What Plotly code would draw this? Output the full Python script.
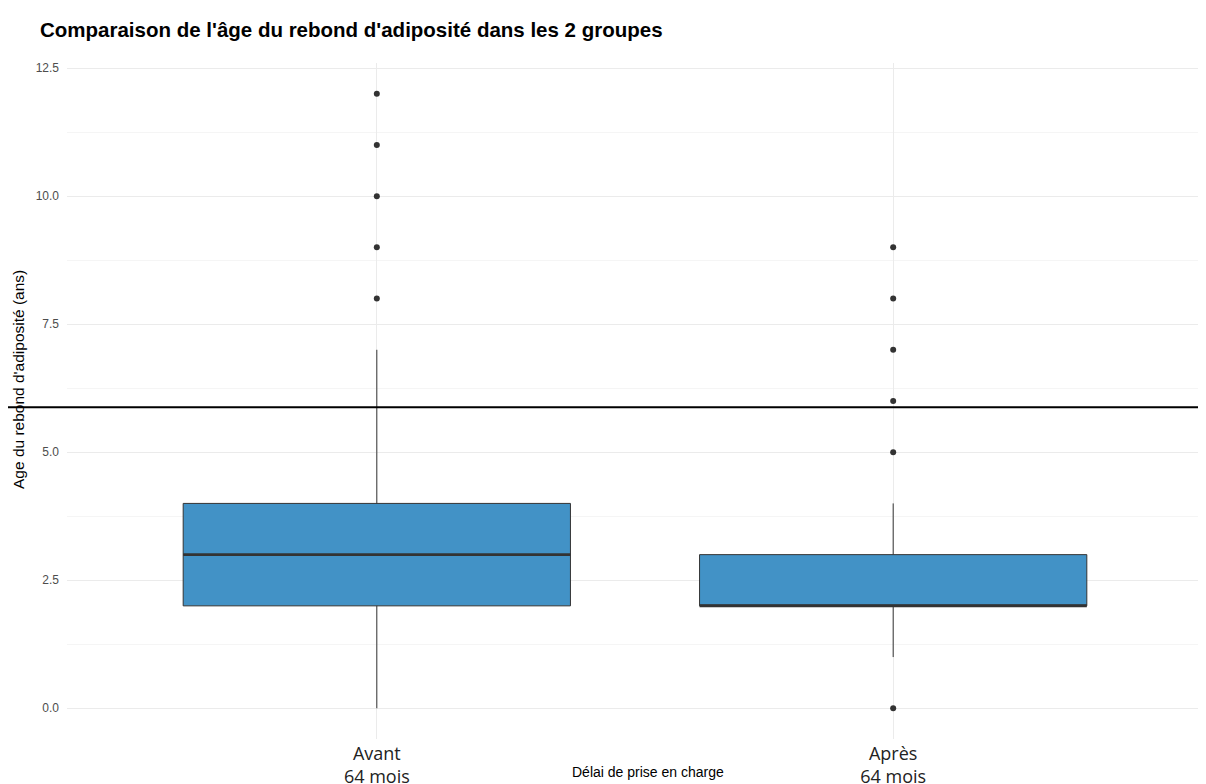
import plotly.graph_objects as go

categories = ["Avant<br>64 mois", "Après<br>64 mois"]
q1 = [2, 2]
median = [3, 2]
q3 = [4, 3]
lower_whisker = [0, 1]
upper_whisker = [7, 4]
outliers = [[8, 9, 10, 11, 12], [0, 5, 6, 7, 8, 9]]
hline_value = 5.88

title_text = "Comparaison de l'âge du rebond d'adiposité dans les 2 groupes"
x_title = "Délai de prise en charge"
y_title = "Age du rebond d'adiposité (ans)"
y_ticks = [0, 2.5, 5, 7.5, 10, 12.5]
y_minor = [1.25, 3.75, 6.25, 8.75, 11.25]

fill = "#4292C6"
edge = "#333333"
box_w = 0.75
pos = list(range(len(categories)))

fig = go.Figure()
fig.add_trace(go.Box(
    x=pos, q1=q1, median=median, q3=q3,
    lowerfence=lower_whisker, upperfence=upper_whisker,
    width=box_w, fillcolor=fill, line=dict(color=edge, width=1),
    boxpoints=False, showlegend=False, hoverinfo="skip", whiskerwidth=0,
))
for i, m in enumerate(median):
    fig.add_trace(go.Scatter(
        x=[pos[i] - box_w / 2, pos[i] + box_w / 2], y=[m, m], mode="lines",
        line=dict(color=edge, width=2.6), showlegend=False, hoverinfo="skip"))
for i, pts in enumerate(outliers):
    fig.add_trace(go.Scatter(
        x=[pos[i]] * len(pts), y=pts, mode="markers",
        marker=dict(color=edge, size=6), showlegend=False))

# page has an 8px body margin: figure coords = page coords - 8
W, H = 1198, 776
L, R, T, B = 59, 3, 55, 45
pw = W - L - R
ph = H - T - B
fig.add_shape(type="line", xref="paper", yref="y",
              x0=-L / pw, x1=(W - L) / pw, y0=hline_value, y1=hline_value,
              line=dict(color="black", width=2))

fig.update_layout(
    width=W, height=H,
    margin=dict(l=L, r=R, t=T, b=B, autoexpand=False),
    plot_bgcolor="white", paper_bgcolor="white",
    title=dict(text="<b>" + title_text + "</b>", x=32 / W, xanchor="left",
               y=1 - 22 / H, yanchor="middle",
               font=dict(family="Liberation Sans, Arial", size=20.5, color="black")),
    xaxis=dict(range=[-0.6, 1.6], tickvals=pos, ticktext=categories,
               showgrid=True, gridcolor="#EBEBEB", gridwidth=1, zeroline=False,
               tickfont=dict(family="Open Sans", size=18, color="#222222"),
               ticks="", showline=False, ticklabelstandoff=2, automargin=False),
    yaxis=dict(range=[-0.6, 12.6], tickvals=y_ticks,
               ticktext=[f"{v:.1f}" for v in y_ticks],
               showgrid=True, gridcolor="#EBEBEB", gridwidth=1, zeroline=False,
               tickfont=dict(family="Liberation Sans, Arial", size=12, color="#4D4D4D"),
               ticks="", ticklabelstandoff=7, automargin=False,
               minor=dict(tickvals=y_minor, showgrid=True,
                          gridcolor="#F5F5F5", gridwidth=1)),
    annotations=[
        dict(text=x_title, xref="paper", yref="paper", x=(640 - L) / pw,
             y=-(764 - (H - B)) / ph,
             xanchor="center", yanchor="middle", showarrow=False,
             font=dict(family="Liberation Sans, Arial", size=14, color="black")),
        dict(text=y_title, xref="paper", yref="paper", x=-(L - 10) / pw,
             y=((H - B) - 372) / ph,
             xanchor="center", yanchor="middle", textangle=-90, showarrow=False,
             font=dict(family="Liberation Sans, Arial", size=15.5, color="black")),
    ],
)
fig.write_html("out.html")
